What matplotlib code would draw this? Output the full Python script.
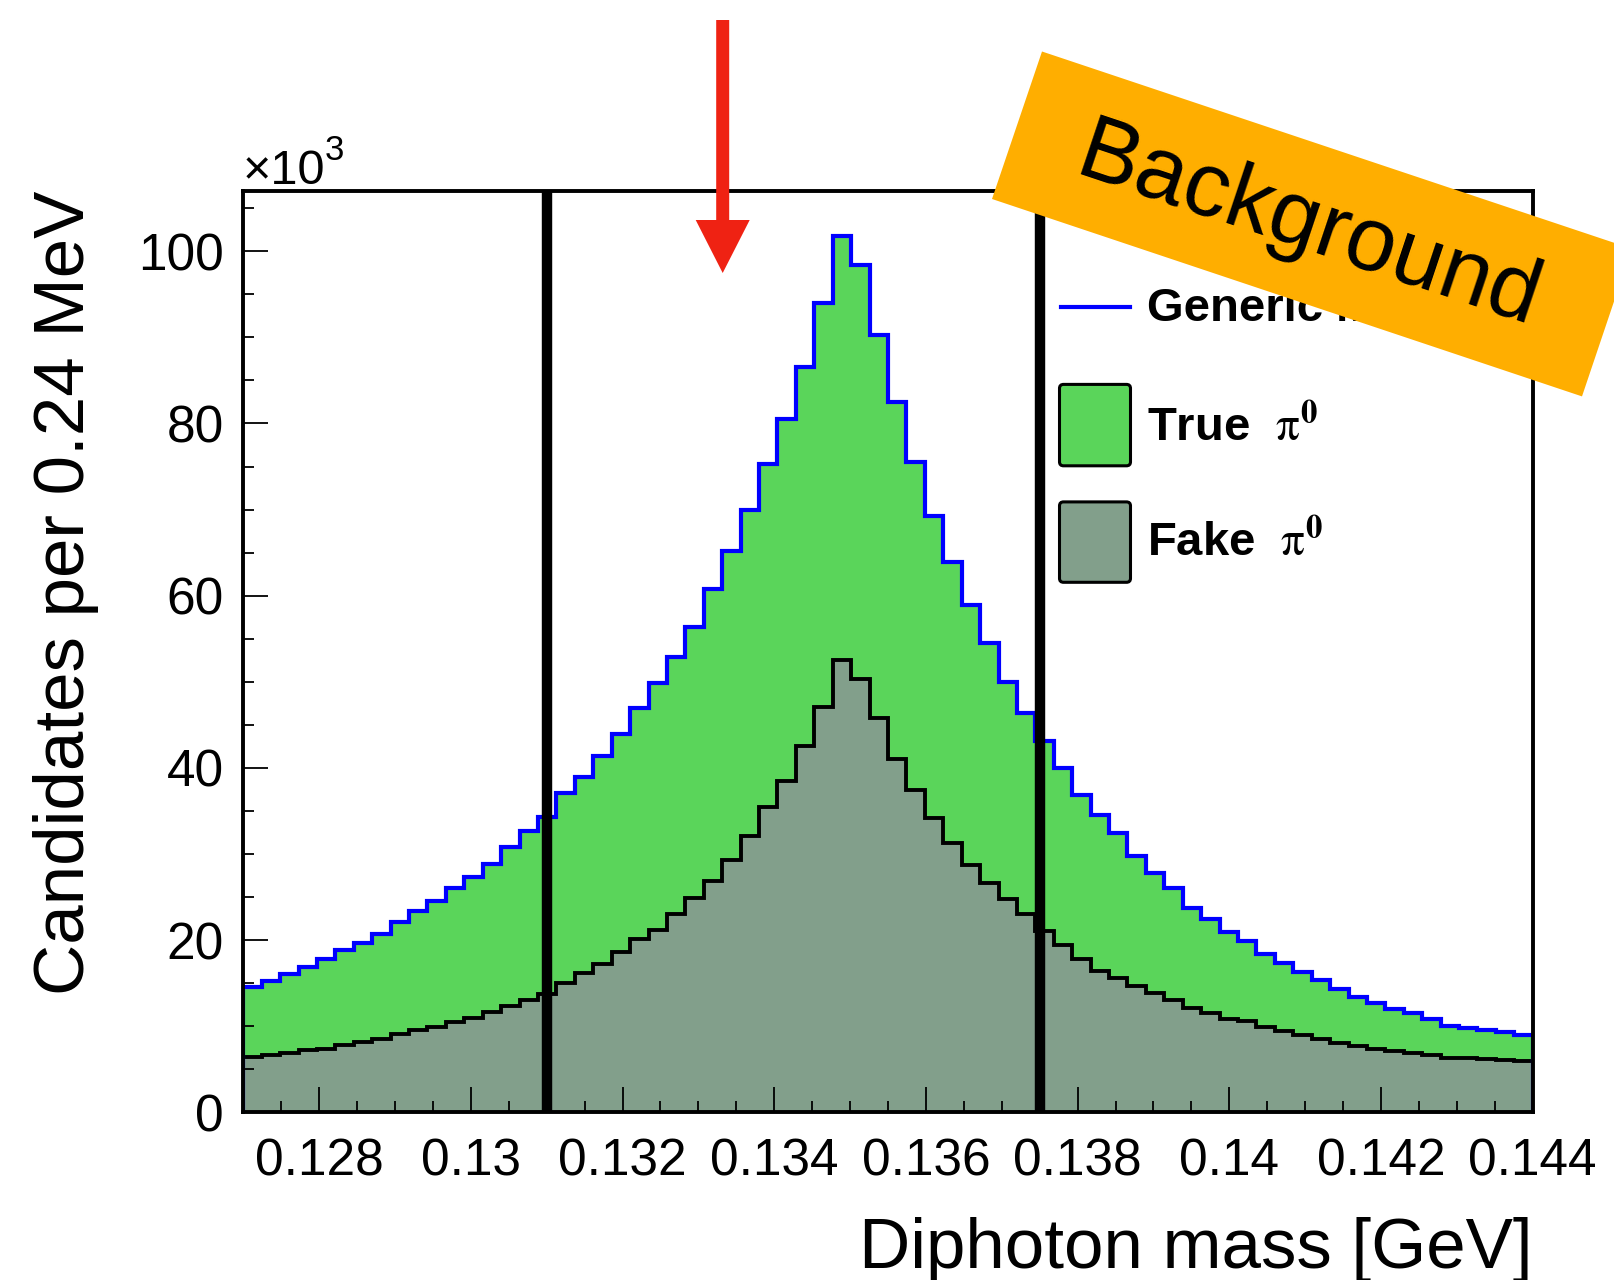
import numpy as np
import matplotlib
matplotlib.use('Agg')
import matplotlib.pyplot as plt
from matplotlib.patches import Polygon, FancyArrow, FancyBboxPatch
from matplotlib.ticker import MultipleLocator

plt.rcParams['font.family'] = ['Liberation Sans', 'DejaVu Sans']
plt.rcParams['mathtext.fontset'] = 'stix'

# histogram binning, 0.24 MeV bins
x_lo, x_hi = 0.127, 0.144
n_bins = 70

# candidates per bin, in units of 10^3
generic_mc = [14.6, 15.2, 16.1, 16.9, 17.8, 18.9, 19.7, 20.7, 22.1, 23.4,
              24.5, 26.0, 27.3, 28.8, 30.8, 32.7, 34.3, 37.1, 38.9, 41.4,
              43.9, 46.9, 49.9, 52.9, 56.4, 60.8, 65.2, 70.0, 75.3, 80.5,
              86.6, 94.0, 101.8, 98.4, 90.3, 82.5, 75.5, 69.3, 63.9, 58.9,
              54.5, 50.0, 46.4, 43.1, 40.0, 36.9, 34.5, 32.4, 29.8, 27.8,
              26.0, 23.7, 22.4, 20.9, 19.9, 18.4, 17.3, 16.3, 15.4, 14.3,
              13.35, 12.65, 12.0, 11.5, 10.8, 10.05, 9.75, 9.55, 9.3, 8.95]
fake_pi0 = [6.4, 6.65, 6.9, 7.2, 7.4, 7.8, 8.2, 8.5, 9.05, 9.55,
            9.85, 10.5, 11.0, 11.6, 12.4, 13.0, 13.7, 15.0, 16.2, 17.2,
            18.6, 20.1, 21.2, 23.0, 24.9, 26.9, 29.3, 32.1, 35.5, 38.5,
            42.6, 47.1, 52.5, 50.3, 45.8, 41.0, 37.4, 34.2, 31.3, 28.7,
            26.6, 24.8, 23.0, 21.0, 19.4, 17.8, 16.4, 15.6, 14.7, 13.8,
            13.0, 12.1, 11.5, 10.8, 10.6, 9.9, 9.4, 9.0, 8.5, 8.1,
            7.7, 7.4, 7.1, 6.9, 6.6, 6.3, 6.25, 6.2, 6.1, 6.0]

cut_low, cut_high = 0.131, 0.1375

x_ticks = [0.128, 0.130, 0.132, 0.134, 0.136, 0.138, 0.140, 0.142, 0.144]
x_tick_labels = ['0.128', '0.13', '0.132', '0.134', '0.136', '0.138', '0.14', '0.142', '0.144']
y_ticks = [0, 20, 40, 60, 80, 100]

green = '#5ad55a'
gray = '#829f8b'

edges = np.linspace(x_lo, x_hi, n_bins + 1)
generic = np.array(generic_mc)
fake = np.array(fake_pi0)
true = generic - fake

W, H = 1615, 1280
fig = plt.figure(figsize=(W / 100, H / 100), dpi=100)
ax = fig.add_axes([243.3 / W, 1 - 1112.3 / H, (1532.7 - 243.3) / W, (1112.3 - 191) / H])

# stack: fake at the bottom, true on top
ax.stairs(fake + true, edges, baseline=fake, fill=True, color=green, lw=0)
ax.stairs(fake, edges, fill=True, color=gray, lw=0)
ax.stairs(fake, edges, color='black', lw=2.8)
ax.stairs(generic, edges, color='#0000ff', lw=3)

ax.axvline(cut_low, color='black', lw=7.5)
ax.axvline(cut_high, color='black', lw=7.5)

ax.set_xlim(x_lo, x_hi)
ax.set_ylim(0, 107)
ax.set_xticks(x_ticks, x_tick_labels)
ax.set_yticks(y_ticks)
ax.xaxis.set_minor_locator(MultipleLocator(0.0005))
ax.yaxis.set_minor_locator(MultipleLocator(5))
ax.tick_params(which='both', direction='in', top=False, right=False, width=1.3)
ax.tick_params(which='major', length=18, labelsize=37)
ax.tick_params(which='minor', length=8)
ax.tick_params(axis='x', pad=18)
ax.tick_params(axis='y', pad=14)
for s in ax.spines.values():
    s.set_linewidth(2.8)

# overlay in pixel coordinates for labels, legend, banner and arrow
ov = fig.add_axes([0, 0, 1, 1], zorder=5)
ov.set_xlim(0, W)
ov.set_ylim(H, 0)
ov.axis('off')

ov.text(66, 191, 'Candidates per 0.24 MeV', rotation=90, ha='center', va='top', fontsize=51)
ov.text(1533, 1268, 'Diphoton mass [GeV]', ha='right', va='baseline', fontsize=51)
ov.text(243, 184, '×10', ha='left', va='baseline', fontsize=35)
ov.text(325, 160, '3', ha='left', va='baseline', fontsize=25)

# legend
ov.plot([1061, 1130], [307, 307], color='#0000ff', lw=3)
ov.add_patch(FancyBboxPatch((1059.5, 384.4), 71, 81.4, boxstyle='round,pad=0,rounding_size=4',
                            fc=green, ec='black', lw=2.2))
ov.add_patch(FancyBboxPatch((1059.5, 501.9), 71, 80.4, boxstyle='round,pad=0,rounding_size=4',
                            fc=gray, ec='black', lw=2.2))
ov.text(1147, 309, 'Generic MC', fontsize=34, fontweight='bold', va='center')
ov.text(1147, 428, r'True  $\mathrm{\pi}^{\mathbf{0}}$', fontsize=34, fontweight='bold', va='center')
ov.text(1147, 543, r'Fake  $\mathrm{\pi}^{\mathbf{0}}$', fontsize=34, fontweight='bold', va='center')

# "Background" banner
ov.add_patch(Polygon([(1042, 51.5), (992, 199), (1582, 396.4), (1631.8, 248.7)],
                     closed=True, fc='#ffae00', ec='none', zorder=10))
ov.text(1309, 228, 'Background', rotation=-18.5, rotation_mode='anchor', ha='center', va='center',
        fontsize=65, zorder=11)

# red arrow
ov.add_patch(FancyArrow(722.7, 20, 0, 253, width=13, head_width=54, head_length=53,
                        length_includes_head=True, color='#ef2213', lw=0, zorder=12))

fig.savefig('out.png', dpi=100)
